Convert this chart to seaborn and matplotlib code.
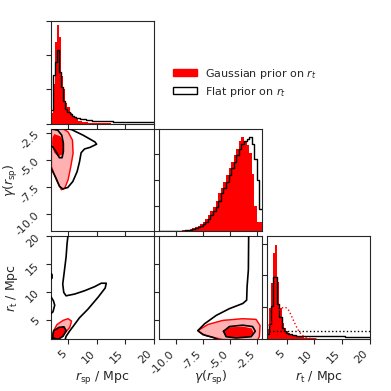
import matplotlib
matplotlib.use("Agg")
import matplotlib.pyplot as plt
import numpy as np
import seaborn as sns
from matplotlib.patches import Patch

# parameter ranges shown on the axes
RSP_RANGE = (1.93, 20.0)
GAMMA_RANGE = (-11.56, -2.08)
RT_RANGE = (1.5, 20.0)

# r_sp marginal (50 bins over RSP_RANGE), heights relative to panel top
rsp_gauss = [0.10, 0.39, 0.80, 0.96, 0.84, 0.46, 0.34, 0.20, 0.16, 0.10,
             0.07, 0.05, 0.04, 0.03, 0.025, 0.02, 0.015, 0.012, 0.01, 0.008,
             0.006, 0.005, 0.004, 0.003, 0.002, 0.002, 0.001, 0.001, 0.001, 0.0,
             0.0, 0.0, 0.0, 0.0, 0.0, 0.0, 0.0, 0.0, 0.0, 0.0,
             0.0, 0.0, 0.0, 0.0, 0.0, 0.0, 0.0, 0.0, 0.0, 0.0]
rsp_flat = [0.13, 0.47, 0.60, 0.72, 0.50, 0.36, 0.22, 0.14, 0.11, 0.09,
            0.075, 0.065, 0.058, 0.052, 0.048, 0.044, 0.04, 0.037, 0.034, 0.032,
            0.03, 0.029, 0.028, 0.027, 0.026, 0.025, 0.024, 0.023, 0.022, 0.021,
            0.02, 0.02, 0.019, 0.019, 0.018, 0.018, 0.017, 0.017, 0.016, 0.016,
            0.016, 0.015, 0.015, 0.015, 0.014, 0.014, 0.014, 0.013, 0.013, 0.013]

# gamma(r_sp) marginal (40 bins over GAMMA_RANGE)
gamma_gauss = [0.0, 0.0, 0.0, 0.0, 0.002, 0.003, 0.004, 0.005, 0.007, 0.009,
               0.012, 0.016, 0.022, 0.03, 0.04, 0.055, 0.07, 0.09, 0.12, 0.16,
               0.20, 0.24, 0.30, 0.37, 0.42, 0.48, 0.55, 0.62, 0.68, 0.74,
               0.80, 0.88, 0.92, 0.88, 0.84, 0.76, 0.56, 0.25, 0.09, 0.09]
gamma_flat = [0.0, 0.0, 0.0, 0.0, 0.0, 0.002, 0.003, 0.004, 0.005, 0.007,
              0.009, 0.012, 0.016, 0.022, 0.03, 0.04, 0.055, 0.07, 0.09, 0.12,
              0.16, 0.20, 0.24, 0.30, 0.37, 0.42, 0.48, 0.55, 0.62, 0.68,
              0.74, 0.80, 0.85, 0.88, 0.90, 0.92, 0.85, 0.70, 0.50, 0.22]

# r_t marginal (50 bins over RT_RANGE)
rt_gauss = [0.10, 0.30, 0.55, 0.84, 0.92, 0.56, 0.30, 0.16, 0.11, 0.08,
            0.06, 0.05, 0.04, 0.035, 0.03, 0.025, 0.02, 0.016, 0.012, 0.01,
            0.008, 0.007, 0.006, 0.005, 0.004, 0.003, 0.002, 0.002, 0.002, 0.002,
            0.002, 0.002, 0.002, 0.002, 0.002, 0.002, 0.002, 0.002, 0.002, 0.002,
            0.002, 0.002, 0.002, 0.002, 0.002, 0.002, 0.002, 0.002, 0.002, 0.002]
rt_flat = [0.05, 0.15, 0.32, 0.60, 0.60, 0.34, 0.21, 0.11, 0.08, 0.06,
           0.05, 0.045, 0.04, 0.036, 0.034, 0.032, 0.031, 0.03, 0.03, 0.03,
           0.029, 0.029, 0.028, 0.028, 0.028, 0.027, 0.027, 0.027, 0.026, 0.026,
           0.026, 0.026, 0.025, 0.025, 0.025, 0.025, 0.025, 0.025, 0.024, 0.024,
           0.024, 0.024, 0.024, 0.024, 0.023, 0.023, 0.023, 0.023, 0.023, 0.023]

# priors on r_t
gauss_prior_rt = [1.8, 2.3, 2.8, 3.3, 3.8, 4.3, 4.7, 5.1, 5.5, 6.0, 6.5, 7.0, 7.5, 8.0, 8.5, 9.0, 9.5, 10.5]
gauss_prior_pdf = [0.13, 0.17, 0.21, 0.25, 0.285, 0.305, 0.31, 0.30, 0.27, 0.21, 0.15, 0.095,
                   0.055, 0.03, 0.015, 0.007, 0.003, 0.0]
flat_prior_rt = [1.8, 20.0]
flat_prior_pdf = [0.075, 0.075]

# 2D credible regions (x, y vertices), Gaussian prior
g_rsp_gamma_outer_x = [1.5, 2.0, 2.0, 2.88, 3.76, 4.35, 4.93, 5.4, 5.8, 5.7, 4.93, 3.76, 3.5, 1.5]
g_rsp_gamma_outer_y = [-1.8, -1.8, -5.59, -6.8, -7.72, -7.56, -6.8, -5.59, -4.36, -3.14, -2.38, -2.0, -1.8, -1.8]
g_rsp_gamma_inner_x = [2.58, 3.46, 3.94, 4.05, 3.76, 3.16, 2.58, 2.28, 2.35]
g_rsp_gamma_inner_y = [-2.68, -2.84, -3.3, -3.9, -4.42, -4.54, -4.21, -3.44, -2.89]

g_rsp_rt_outer_x = [1.7, 2.0, 2.41, 2.99, 4.05, 4.93, 5.53, 5.23, 4.35, 3.46, 3.0, 1.7]
g_rsp_rt_outer_y = [1.0, 1.68, 3.02, 4.11, 4.85, 5.16, 4.72, 3.62, 2.52, 1.68, 1.0, 1.0]
g_rsp_rt_inner_x = [2.1, 2.28, 2.58, 3.34, 4.17, 4.47, 3.94, 3.16, 2.8, 2.1]
g_rsp_rt_inner_y = [1.0, 1.79, 2.71, 3.44, 3.51, 2.89, 1.98, 1.5, 1.0, 1.0]

g_gamma_rt_outer_x = [-7.98, -7.06, -5.69, -3.85, -2.62, -2.26, -2.32, -2.5, -3.24, -5.69, -7.21, -7.83]
g_gamma_rt_outer_y = [3.02, 4.11, 4.85, 5.16, 5.03, 3.93, 1.92, 1.3, 1.3, 1.4, 2.1, 2.71]
g_gamma_rt_inner_x = [-5.53, -5.07, -3.85, -3.08, -2.94, -3.24, -4.46, -5.32]
g_gamma_rt_inner_y = [2.71, 3.44, 3.57, 3.26, 2.65, 2.1, 1.92, 2.1]

# 2D credible contours, flat prior
f_rsp_gamma_outer_x = [1.5, 5.53, 7.57, 9.64, 9.94, 8.76, 7.82, 7.22, 6.94, 6.52, 5.76, 4.88,
                       4.0, 3.41, 2.81, 2.23, 1.93, 1.5]
f_rsp_gamma_outer_y = [-1.8, -2.16, -2.68, -3.3, -3.51, -3.81, -3.95, -4.3, -5.13, -6.04, -6.96,
                       -7.51, -7.65, -7.4, -6.65, -6.04, -5.73, -5.5]
f_rsp_gamma_inner_x = [1.5, 2.23, 3.11, 3.82, 4.1, 4.1, 3.87, 3.41, 2.81, 2.23, 1.93, 1.5]
f_rsp_gamma_inner_y = [-1.8, -2.13, -2.22, -2.68, -3.44, -4.21, -4.76, -4.76, -4.21, -3.75, -3.66, -3.6]

f_rsp_rt_outer_x = [4.95, 4.75, 4.58, 4.29, 3.99, 4.17, 4.58, 6.06, 7.82, 9.58, 10.75, 11.63,
                    11.45, 10.17, 8.4, 6.94, 6.06, 5.17, 4.58, 4.3]
f_rsp_rt_outer_y = [20.5, 18.7, 16.3, 13.86, 11.4, 9.9, 9.29, 9.6, 10.2, 10.93, 11.56, 11.56,
                    10.7, 9.0, 6.86, 5.34, 4.11, 2.89, 1.98, 1.0]
f_rsp_rt_notch_x = [1.5, 1.93, 2.35, 2.58, 2.28, 1.93, 1.5]
f_rsp_rt_notch_y = [9.6, 9.1, 8.4, 7.6, 6.4, 6.1, 6.0]
f_rsp_rt_blob_x = [1.93, 2.12, 2.12, 1.93]
f_rsp_rt_blob_y = [13.3, 13.1, 12.5, 12.3]
f_rsp_rt_inner_x = [2.2, 2.41, 3.34, 4.2, 4.6, 4.05, 3.2, 2.2]
f_rsp_rt_inner_y = [1.7, 3.0, 3.6, 3.7, 3.0, 2.0, 1.45, 1.7]

f_gamma_rt_outer_x = [-3.3, -3.33, -3.45, -3.49, -3.85, -5.07, -6.29, -7.37, -7.98, -7.52,
                      -6.6, -6.15, -6.0]
f_gamma_rt_outer_y = [21.0, 13.99, 10.93, 8.5, 7.9, 6.98, 5.76, 4.24, 3.02, 2.29, 1.79, 1.43, 1.0]
f_gamma_rt_inner_x = [-5.62, -5.07, -3.85, -2.94, -2.69, -3.08, -4.46, -5.38, -5.62]
f_gamma_rt_inner_y = [2.89, 3.75, 3.99, 3.75, 2.89, 1.92, 1.68, 1.92, 2.89]

RED = "#ff0000"
PINK = "#ffb0b0"

sns.set_style("ticks")
plt.rcParams["font.family"] = ["DejaVu Sans"]
plt.rcParams["mathtext.fontset"] = "dejavusans"


def draw_marginal(ax, rng, gauss, flat):
    n = len(gauss)
    width = (rng[1] - rng[0]) / n
    centers = rng[0] + width * (np.arange(n) + 0.5)
    sns.histplot(x=centers, weights=np.asarray(gauss), bins=n, binrange=rng, element="step",
                 fill=True, color=RED, alpha=1.0, linewidth=0, ax=ax)
    sns.histplot(x=centers, weights=np.asarray(flat), bins=n, binrange=rng, element="step",
                 fill=False, color="black", linewidth=1.0, ax=ax)
    ax.set_xlim(rng)
    ax.set_ylim(0, 1.0)
    ax.set_xlabel("")
    ax.set_ylabel("")


def draw_region(ax, outer_x, outer_y, inner_x, inner_y):
    ax.fill(outer_x, outer_y, color=PINK, zorder=1)
    ax.plot(outer_x + outer_x[:1], outer_y + outer_y[:1], color=RED, lw=1.0, zorder=2)
    ax.fill(inner_x, inner_y, color=RED, zorder=3)
    ax.plot(inner_x + inner_x[:1], inner_y + inner_y[:1], color=RED, lw=1.0, zorder=3)


def draw_lines(ax, xs, ys, closed=False):
    if closed:
        xs = xs + xs[:1]
        ys = ys + ys[:1]
    ax.plot(xs, ys, color="black", lw=1.2, zorder=5)


fig, axes = plt.subplots(3, 3, figsize=(3.91, 3.91), dpi=100)
fig.subplots_adjust(left=51 / 391, right=370 / 391, top=1 - 21 / 391, bottom=1 - 339 / 391,
                    wspace=0.05, hspace=0.05)

for ax in [axes[0, 1], axes[0, 2], axes[1, 2]]:
    ax.set_visible(False)

rsp_ticks = [5, 10, 15, 20]
gamma_ticks = [-10.0, -7.5, -5.0, -2.5]
rt_ticks = [5, 10, 15, 20]

# diagonal
draw_marginal(axes[0, 0], RSP_RANGE, rsp_gauss, rsp_flat)
axes[0, 0].set_yticks([0, 1 / 3, 2 / 3, 1.0])
draw_marginal(axes[1, 1], GAMMA_RANGE, gamma_gauss, gamma_flat)
axes[1, 1].set_yticks([0, 0.25, 0.5, 0.75, 1.0])
draw_marginal(axes[2, 2], RT_RANGE, rt_gauss, rt_flat)
axes[2, 2].set_yticks([0, 0.31, 0.62, 0.93])
axes[2, 2].plot(gauss_prior_rt, gauss_prior_pdf, color=RED, ls=":", lw=1.0)
axes[2, 2].plot(flat_prior_rt, flat_prior_pdf, color="black", ls=":", lw=1.0)
for k in range(3):
    axes[k, k].set_yticklabels([])

# r_sp vs gamma
ax = axes[1, 0]
draw_region(ax, g_rsp_gamma_outer_x, g_rsp_gamma_outer_y, g_rsp_gamma_inner_x, g_rsp_gamma_inner_y)
draw_lines(ax, f_rsp_gamma_outer_x, f_rsp_gamma_outer_y)
draw_lines(ax, f_rsp_gamma_inner_x, f_rsp_gamma_inner_y)
ax.set_xlim(RSP_RANGE)
ax.set_ylim(GAMMA_RANGE)

# r_sp vs r_t
ax = axes[2, 0]
draw_region(ax, g_rsp_rt_outer_x, g_rsp_rt_outer_y, g_rsp_rt_inner_x, g_rsp_rt_inner_y)
draw_lines(ax, f_rsp_rt_outer_x, f_rsp_rt_outer_y)
draw_lines(ax, f_rsp_rt_notch_x, f_rsp_rt_notch_y)
draw_lines(ax, f_rsp_rt_blob_x, f_rsp_rt_blob_y)
draw_lines(ax, f_rsp_rt_inner_x, f_rsp_rt_inner_y, closed=True)
ax.set_xlim(RSP_RANGE)
ax.set_ylim(RT_RANGE)

# gamma vs r_t
ax = axes[2, 1]
draw_region(ax, g_gamma_rt_outer_x, g_gamma_rt_outer_y, g_gamma_rt_inner_x, g_gamma_rt_inner_y)
draw_lines(ax, f_gamma_rt_outer_x, f_gamma_rt_outer_y)
draw_lines(ax, f_gamma_rt_inner_x, f_gamma_rt_inner_y)
ax.set_xlim(GAMMA_RANGE)
ax.set_ylim(RT_RANGE)

col_ticks = [rsp_ticks, gamma_ticks, rt_ticks]
for i in range(3):
    for j in range(i + 1):
        ax = axes[i, j]
        ax.set_xticks(col_ticks[j])
        ax.tick_params(direction="out", length=3.5, width=0.8, labelsize=8)
        for sp in ax.spines.values():
            sp.set_visible(True)
            sp.set_linewidth(0.8)
        if i < 2:
            ax.set_xticklabels([])
        else:
            ax.set_xticklabels([f"{t:g}" if j != 1 else f"{t:.1f}" for t in col_ticks[j]],
                               rotation=45, ha="right")
        if i != j:
            ax.set_yticks(col_ticks[i])
            if j == 0:
                ax.set_yticklabels([f"{t:g}" if i != 1 else f"{t:.1f}" for t in col_ticks[i]],
                                   rotation=45, ha="right")
            else:
                ax.set_yticklabels([])

for ax in axes[1:, 0]:
    ax.yaxis.set_label_coords(-0.30, 0.5)
for ax in axes[2, :]:
    ax.xaxis.set_label_coords(0.5, -0.29)

axes[1, 0].set_ylabel(r"$\gamma(r_{\rm sp})$", fontsize=9)
axes[2, 0].set_ylabel(r"$r_{\rm t}$ / Mpc", fontsize=9)
axes[2, 0].set_xlabel(r"$r_{\rm sp}$ / Mpc", fontsize=9)
axes[2, 1].set_xlabel(r"$\gamma(r_{\rm sp})$", fontsize=9)
axes[2, 2].set_xlabel(r"$r_{\rm t}$ / Mpc", fontsize=9)

handles = [Patch(facecolor=RED, edgecolor=RED, label=r"Gaussian prior on $r_t$"),
           Patch(facecolor="white", edgecolor="black", label=r"Flat prior on $r_t$")]
fig.legend(handles=handles, loc="upper left", bbox_to_anchor=(0.417, 0.855), frameon=False,
           fontsize=8, handlelength=2.2, handleheight=0.6, labelspacing=0.35,
           handletextpad=0.7)

fig.savefig("out.png", dpi=100)
